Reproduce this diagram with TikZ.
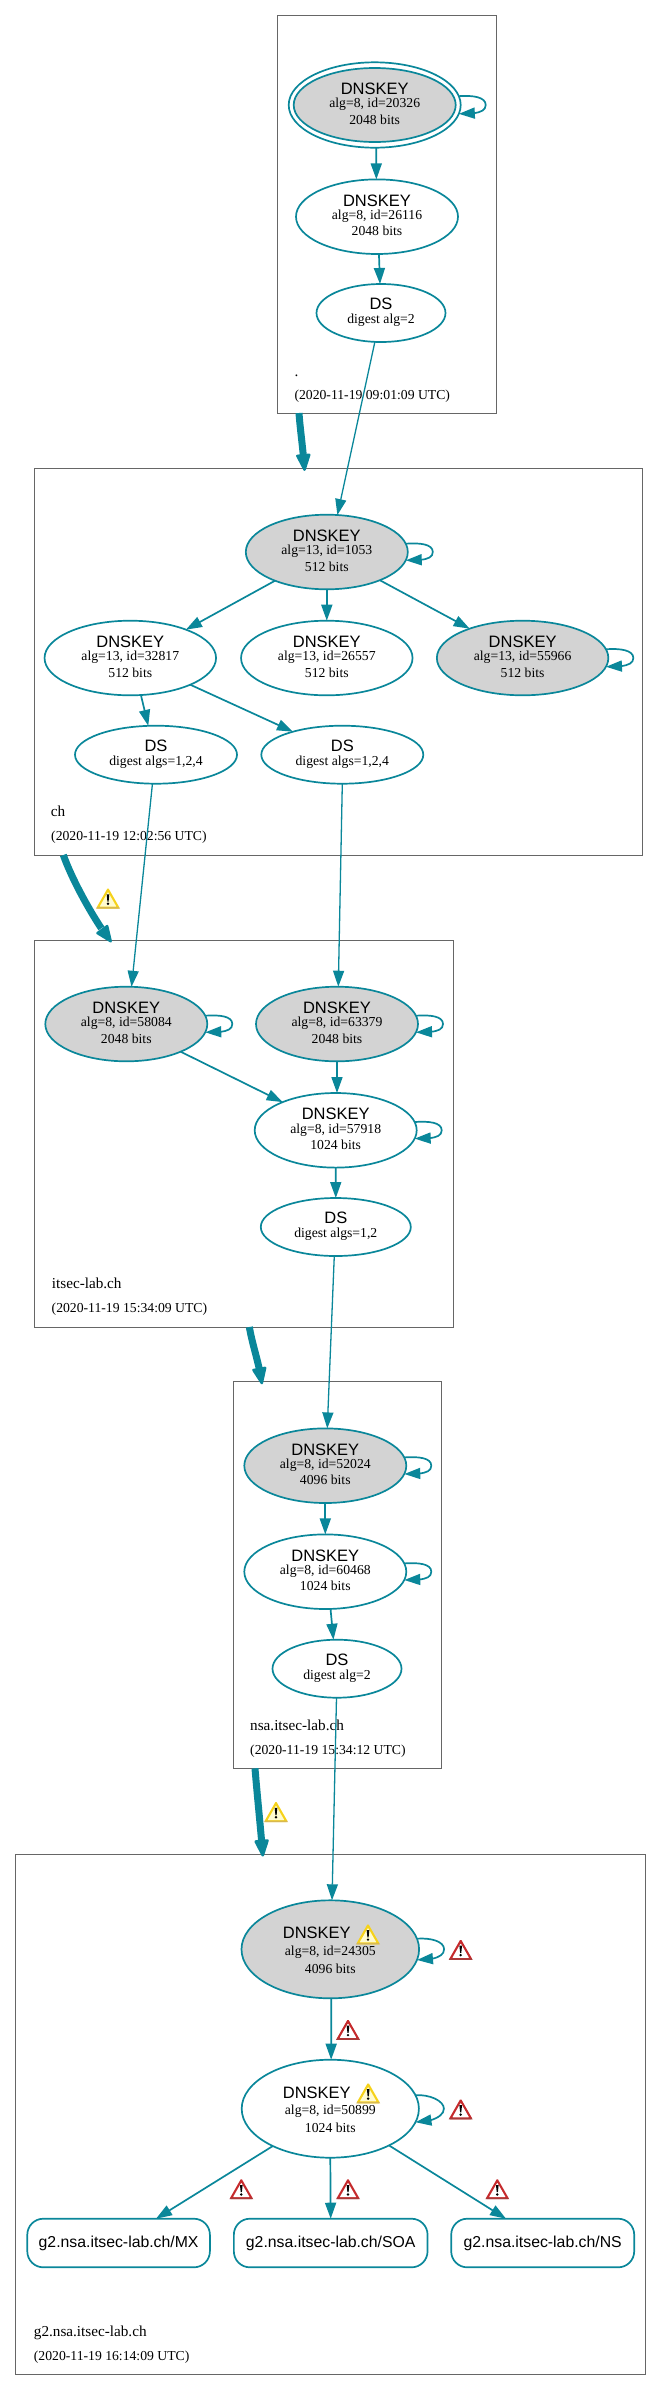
\documentclass[tikz,border=0pt]{standalone}
\usepackage{fontspec}
\setmainfont{Liberation Serif}
\newfontfamily\sansf{Liberation Sans}
\usetikzlibrary{shapes.geometric,arrows.meta,calc,bending}
\definecolor{dnsteal}{HTML}{0A879A}
\definecolor{zonegray}{HTML}{666666}
\definecolor{keygray}{HTML}{D3D3D3}
\definecolor{warnY}{HTML}{F6D21A}
\definecolor{warnYd}{HTML}{D8B850}
\definecolor{warnYl}{HTML}{FFFBD0}
\definecolor{warnR}{HTML}{C62A2C}
\definecolor{warnRd}{HTML}{A63A3A}
\definecolor{warnRl}{HTML}{FFFFFF}
\newcommand\keyfont{\sansf\fontsize{16.5}{18}\selectfont}
\newcommand\rrfont{\sansf\fontsize{15.8}{18}\selectfont}
\newcommand\smallfont{\fontsize{13.7}{15}\selectfont}
\newcommand\zonefont{\fontsize{15.2}{17}\selectfont}
\newcommand\tl[7]{\vbox{\offinterlineskip\halign{\hfil##\hfil\cr
  \vrule height#4pt depth0pt width0pt{\keyfont #1}\cr
  \vrule height#5pt depth0pt width0pt{\smallfont #2}\cr
  \vrule height#6pt depth#7pt width0pt{\smallfont #3}\cr}}}
\newcommand\keytxt[2]{\tl{DNSKEY}{#1}{#2}{12.7}{13.3}{13.4}{4}}
\newcommand\warntxt[2]{\tl{DNSKEY\hspace{27pt}}{#1}{#2}{13.3}{16.5}{14.8}{0}}
\newcommand\dstxt[1]{\vbox{\offinterlineskip\halign{\hfil##\hfil\cr
  \vrule height11.7pt depth0pt width0pt{\keyfont DS}\cr
  \vrule height13.3pt depth4.4pt width0pt{\smallfont #1}\cr}}}
% warning sign: left x, top y, outer colour, lower edge colour, inner colour
\newcommand\warnsign[5]{\begin{scope}[shift={(#1,#2)}]
  \fill[#3,rounded corners=1.4pt] (12,0) -- (24,21) -- (0,21) -- cycle;
  \fill[#4] (1,19.6) -- (23,19.6) -- (24,21) -- (0,21) -- cycle;
  \fill[#5,rounded corners=0.5pt] (12,4.5) -- (20.3,19) -- (3.7,19) -- cycle;
  \fill[black] (10.7,6.8) -- (13.3,6.8) -- (12.6,14) -- (11.4,14) -- cycle;
  \fill[black] (12,16.3) circle (1.35);
\end{scope}}
\newcommand\yellowsign[2]{\warnsign{#1}{#2}{warnY}{warnYd}{warnYl}}
\newcommand\redsign[2]{\warnsign{#1}{#2}{warnR}{warnRd}{warnRl}}
\tikzset{
  zone/.style={draw=zonegray,line width=1pt,rectangle,inner sep=0pt,outer sep=0pt},
  keyshape/.style={ellipse,draw=dnsteal,line width=1.7pt,inner sep=0pt,outer sep=0pt,fill=white},
  ksa/.style={keyshape,fill=keygray},
  rrset/.style={rectangle,rounded corners=16pt,draw=dnsteal,line width=1.7pt,inner sep=0pt,outer sep=0pt,fill=white,font=\rrfont},
  kedge/.style={draw=dnsteal,line width=1.7pt,-{Triangle[length=16pt,width=11pt]}},
  dedge/.style={draw=dnsteal,line width=1.3pt,-{Triangle[length=16pt,width=11pt]}},
  zedge/.style={draw=dnsteal,line width=7pt,shorten >=-2.6pt,-{Triangle[length=19pt,width=15pt,round,line width=2.5pt]}},
  zname/.style={anchor=base west,inner sep=0pt,font=\zonefont},
  zdate/.style={anchor=base west,inner sep=0pt,font=\smallfont},
}
\newcommand\selfloop[4]{% node, start angle, end angle, reach
  \draw[kedge] (#1.#2) .. controls +(14,-1) and +(0,-8) .. ($(#1.east)+(#4,0)$)
     .. controls +(0,8) and +(15,0) .. (#1.#3);}
\newcommand\onsouth[2]{($(#1.south west)!#2!(#1.south east)$)}
\newcommand\onnorth[2]{($(#1.north west)!#2!(#1.north east)$)}
\begin{document}
\begin{tikzpicture}[x=1pt,y=-1pt]
\useasboundingbox (0,0) rectangle (661,2391);
% zones
\node[zone,minimum width=218.5pt,minimum height=397.3pt] (B1) at (386.75,214.35) {};
\node[zone,minimum width=608pt,minimum height=386.7pt] (B2) at (338.5,661.65) {};
\node[zone,minimum width=418.8pt,minimum height=386.7pt] (B3) at (243.9,1133.65) {};
\node[zone,minimum width=208.2pt,minimum height=386.6pt] (B4) at (337.4,1575) {};
\node[zone,minimum width=630pt,minimum height=520pt] (B5) at (330.5,2114) {};
% zone labels
\node[zname] (L1) at (294.3,376.7) {.};
\node[zdate] (D1) at (294.3,399) {(2020-11-19 09:01:09 UTC)};
\node[zname] (L2) at (50.7,816.7) {ch};
\node[zdate] (D2) at (51,840) {(2020-11-19 12:02:56 UTC)};
\node[zname] (L3) at (51.7,1288.7) {itsec-lab.ch};
\node[zdate] (D3) at (51.5,1312.7) {(2020-11-19 15:34:09 UTC)};
\node[zname] (L4) at (250,1730.7) {nsa.itsec-lab.ch};
\node[zdate] (D4) at (250,1754) {(2020-11-19 15:34:12 UTC)};
\node[zname] (L5) at (33.7,2336.7) {g2.nsa.itsec-lab.ch};
\node[zdate] (D5) at (33.7,2360) {(2020-11-19 16:14:09 UTC)};
% root
\node[keyshape,minimum width=172pt,minimum height=85.4pt] (K1) at (374.7,105) {};
\node[ksa,minimum width=162pt,minimum height=74pt] (K1i) at (K1) {\keytxt{alg=8, id=20326}{2048 bits}};
\node[keyshape,minimum width=162pt,minimum height=74.6pt] (K2) at (377,216.7) {\keytxt{alg=8, id=26116}{2048 bits}};
\node[keyshape,minimum width=129pt,minimum height=58pt] (S0) at (381,313) {\dstxt{digest alg=2}};
% ch
\node[ksa,minimum width=162pt,minimum height=74.6pt] (C1) at (326.8,552) {\keytxt{alg=13, id=1053}{512 bits}};
\node[keyshape,minimum width=171.5pt,minimum height=74.6pt] (C2) at (130.3,658) {\keytxt{alg=13, id=32817}{512 bits}};
\node[keyshape,minimum width=171.5pt,minimum height=74.6pt] (C3) at (326.8,658) {\keytxt{alg=13, id=26557}{512 bits}};
\node[ksa,minimum width=171.5pt,minimum height=74.6pt] (C4) at (522.6,658) {\keytxt{alg=13, id=55966}{512 bits}};
\node[keyshape,minimum width=162pt,minimum height=58pt] (S1) at (156,754.7) {\dstxt{digest algs=1,2,4}};
\node[keyshape,minimum width=162pt,minimum height=58pt] (S2) at (342.3,754.7) {\dstxt{digest algs=1,2,4}};
% itsec-lab
\node[ksa,minimum width=162pt,minimum height=74.6pt] (T1) at (126.3,1024) {\keytxt{alg=8, id=58084}{2048 bits}};
\node[ksa,minimum width=162pt,minimum height=74.6pt] (T2) at (337,1024) {\keytxt{alg=8, id=63379}{2048 bits}};
\node[keyshape,minimum width=162pt,minimum height=74.6pt] (T3) at (335.7,1130.3) {\keytxt{alg=8, id=57918}{1024 bits}};
\node[keyshape,minimum width=150pt,minimum height=58pt] (S3) at (335.8,1227) {\dstxt{digest algs=1,2}};
% nsa
\node[ksa,minimum width=162pt,minimum height=74.6pt] (N1) at (325.3,1465.7) {\keytxt{alg=8, id=52024}{4096 bits}};
\node[keyshape,minimum width=162pt,minimum height=74.6pt] (N2) at (325.3,1571.7) {\keytxt{alg=8, id=60468}{1024 bits}};
\node[keyshape,minimum width=129pt,minimum height=58pt] (S4) at (337,1668.7) {\dstxt{digest alg=2}};
% g2
\node[ksa,minimum width=177.6pt,minimum height=98pt] (G1) at (330.3,1949.3) {\warntxt{alg=8, id=24305}{4096 bits}};
\node[keyshape,minimum width=177.2pt,minimum height=98pt] (G2) at (330.3,2108.7) {\warntxt{alg=8, id=50899}{1024 bits}};
\node[rrset,minimum width=182.6pt,minimum height=48.6pt] (R1) at (118.6,2243) {g2.nsa.itsec-lab.ch/MX};
\node[rrset,minimum width=193.7pt,minimum height=48.6pt] (R2) at (330.7,2243) {g2.nsa.itsec-lab.ch/SOA};
\node[rrset,minimum width=183pt,minimum height=48.6pt] (R3) at (542.7,2243) {g2.nsa.itsec-lab.ch/NS};
% key edges
\draw[kedge] (K1.-88.7) -- (K2.91);
\draw[kedge] (K2.-87.4) -- (S0.92.6);
\draw[dedge] (S0.-102.9) -- (C1.74.1);
\draw[kedge] (C1.-151.3) -- (C2.27.9);
\draw[kedge] (C1.-90) -- (C3.90);
\draw[kedge] (C1.-28.7) -- (C4.151.4);
\draw[kedge] (C2.-74.4) -- (S1.105.2);
\draw[kedge] (C2.-24.6) -- (S2.155.3);
\draw[dedge] (S1.-97.4) -- (T1.82.8);
\draw[dedge] (S2.-90.8) -- (T2.88);
\draw[kedge] (T1.-27) -- (T3.152.2);
\draw[kedge] (T2.-90.5) -- (T3.88.5);
\draw[kedge] (T3.-90) -- (S3.90);
\draw[dedge] (S3.-93) -- (N1.87);
\draw[kedge] (N1.-90) -- (N2.90);
\draw[kedge] (N2.-82.9) -- (S4.97.3);
\draw[dedge] (S4.-91.4) -- (G1.88.4);
\draw[kedge] (G1.-89.5) -- (G2.89.5);
\draw[kedge] (G2.-147.6) -- \onnorth{R1}{0.705};
\draw[kedge] (G2.-90) -- (R2.north);
\draw[kedge] (G2.-32) -- \onnorth{R3}{0.2995};
% self loops
\selfloop{K1}{6.3}{-6.8}{25}
\selfloop{C1}{6.3}{-6.5}{25}
\selfloop{C4}{6.3}{-6.5}{25}
\selfloop{T1}{6.3}{-6.5}{25}
\selfloop{T2}{6.3}{-6.5}{25}
\selfloop{T3}{6.3}{-6.5}{25}
\selfloop{N1}{6.3}{-6.5}{25}
\selfloop{N2}{6.3}{-6.5}{25}
\selfloop{G1}{7.6}{-7}{25}
\selfloop{G2}{9.2}{-9.5}{25}
% zone edges
\draw[zedge] \onsouth{B1}{0.0984} .. controls +(1,15) and +(-1.5,-20) .. \onnorth{B2}{0.444};
\draw[zedge] \onsouth{B2}{0.0474} .. controls +(10,28) and +(-14,-18) .. \onnorth{B3}{0.18};
\draw[zedge] \onsouth{B3}{0.513} .. controls +(3,18) and +(-3,-20) .. \onnorth{B4}{0.1364};
\draw[zedge] \onsouth{B4}{0.1042} .. controls +(2,25) and +(-2,-25) .. \onnorth{B5}{0.3924};
% warning signs
\yellowsign{96}{887.5}
\yellowsign{264}{1801}
\yellowsign{356}{1923.3}
\yellowsign{356.2}{2082.3}
\redsign{448.7}{1938.8}
\redsign{336}{2018.8}
\redsign{448.7}{2098.3}
\redsign{229.3}{2178.2}
\redsign{336}{2178.2}
\redsign{485.3}{2178.2}
\end{tikzpicture}
\end{document}
